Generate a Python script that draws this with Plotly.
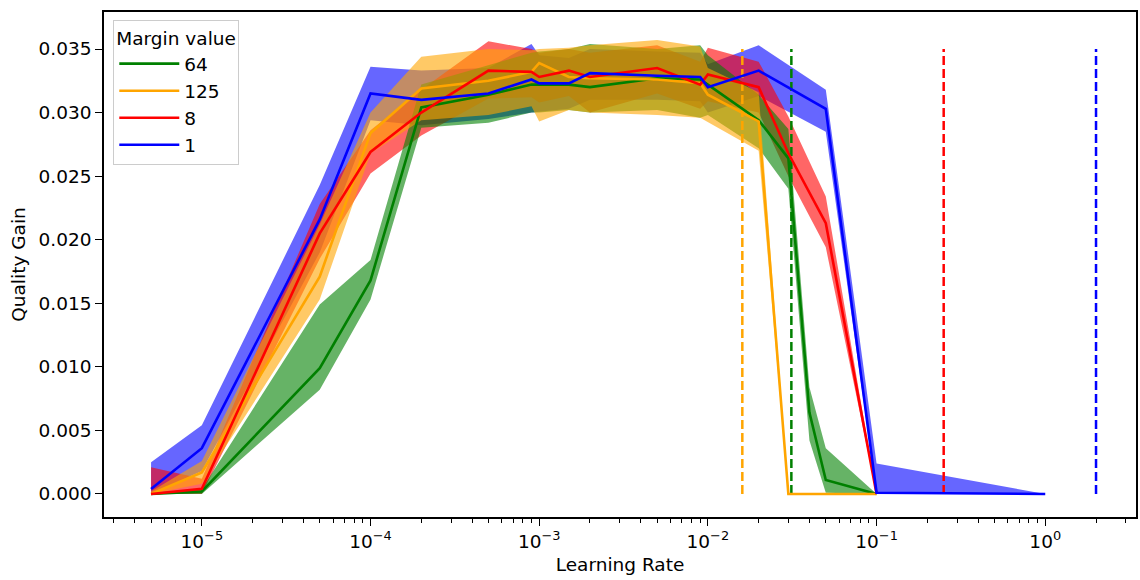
import plotly.graph_objects as go

# Learning-rate sweep: mean quality gain with a spread band, per margin value.
lr_64 = [5e-6, 1e-5, 5e-5, 1e-4, 2e-4, 5e-4, 9e-4, 1e-3, 1.5e-3, 2e-3, 5e-3, 9e-3, 1e-2, 2e-2, 3e-2, 4e-2, 5e-2, 1e-1]
mean_64 = [0.0000, 0.0002, 0.0099, 0.0168, 0.0304, 0.0314, 0.0322, 0.0322, 0.0322, 0.0320, 0.0327, 0.0326, 0.0322, 0.0294, 0.0264, 0.0064, 0.0011, 0.0000]
upper_64 = [0.0001, 0.0004, 0.0149, 0.0184, 0.0322, 0.0337, 0.0347, 0.0348, 0.0350, 0.0354, 0.0350, 0.0353, 0.0345, 0.0314, 0.0287, 0.0084, 0.0036, 0.0000]
lower_64 = [0.0000, 0.0000, 0.0082, 0.0153, 0.0288, 0.0292, 0.0300, 0.0300, 0.0302, 0.0300, 0.0302, 0.0296, 0.0298, 0.0272, 0.0240, 0.0042, 0.0001, 0.0000]

lr_125 = [5e-6, 1e-5, 5e-5, 1e-4, 2e-4, 5e-4, 9e-4, 1e-3, 1.5e-3, 2e-3, 5e-3, 9e-3, 1e-2, 2e-2, 3e-2, 1e-1]
mean_125 = [0.0000, 0.0017, 0.0171, 0.0284, 0.0319, 0.0325, 0.0332, 0.0339, 0.0328, 0.0327, 0.0326, 0.0323, 0.0314, 0.0293, 0.0000, 0.0000]
upper_125 = [0.0002, 0.0026, 0.0212, 0.0300, 0.0344, 0.0350, 0.0349, 0.0350, 0.0351, 0.0353, 0.0357, 0.0352, 0.0335, 0.0316, 0.0000, 0.0000]
lower_125 = [0.0000, 0.0008, 0.0153, 0.0268, 0.0294, 0.0298, 0.0305, 0.0293, 0.0302, 0.0300, 0.0298, 0.0296, 0.0292, 0.0270, 0.0000, 0.0000]

lr_8 = [5e-6, 1e-5, 5e-5, 1e-4, 2e-4, 5e-4, 9e-4, 1e-3, 1.5e-3, 2e-3, 5e-3, 9e-3, 1e-2, 2e-2, 3e-2, 5e-2, 1e-1]
mean_8 = [0.0000, 0.0004, 0.0205, 0.0269, 0.0300, 0.0333, 0.0332, 0.0328, 0.0333, 0.0328, 0.0335, 0.0322, 0.0330, 0.0320, 0.0268, 0.0213, 0.0000]
upper_8 = [0.0021, 0.0012, 0.0228, 0.0286, 0.0318, 0.0356, 0.0350, 0.0347, 0.0350, 0.0347, 0.0353, 0.0340, 0.0351, 0.0340, 0.0297, 0.0234, 0.0000]
lower_8 = [0.0000, 0.0000, 0.0185, 0.0252, 0.0282, 0.0311, 0.0312, 0.0308, 0.0313, 0.0300, 0.0315, 0.0303, 0.0309, 0.0300, 0.0250, 0.0194, 0.0000]

lr_1 = [5e-6, 1e-5, 5e-5, 1e-4, 2e-4, 5e-4, 9e-4, 1e-3, 1.5e-3, 2e-3, 5e-3, 9e-3, 1e-2, 2e-2, 5e-2, 1e-1, 1.0]
mean_1 = [0.0004, 0.0036, 0.0216, 0.0315, 0.0310, 0.0315, 0.0326, 0.0323, 0.0323, 0.0331, 0.0329, 0.0328, 0.0320, 0.0333, 0.0303, 0.0001, 0.0000]
upper_1 = [0.0025, 0.0054, 0.0243, 0.0336, 0.0333, 0.0335, 0.0354, 0.0345, 0.0343, 0.0350, 0.0348, 0.0347, 0.0338, 0.0353, 0.0318, 0.0024, 0.0000]
lower_1 = [0.0000, 0.0018, 0.0190, 0.0294, 0.0290, 0.0295, 0.0300, 0.0301, 0.0303, 0.0310, 0.0310, 0.0309, 0.0300, 0.0313, 0.0285, 0.0000, 0.0000]

margins = ["64", "125", "8", "1"]
# Suggested learning-rate limit for each margin (2 / margin).
limit_64, limit_125, limit_8, limit_1 = 2 / 64, 2 / 125, 2 / 8, 2 / 1
limit_top = 0.035

x_tickvals = [1e-5, 1e-4, 1e-3, 1e-2, 1e-1, 1e0]
x_ticktext = ["10<sup>−5</sup>", "10<sup>−4</sup>", "10<sup>−3</sup>", "10<sup>−2</sup>", "10<sup>−1</sup>", "10<sup>0</sup>"]
y_tickvals = [0.0, 0.005, 0.01, 0.015, 0.02, 0.025, 0.03, 0.035]

series = {
    "64": (lr_64, mean_64, upper_64, lower_64, "rgb(0,128,0)", "rgba(0,128,0,0.6)", limit_64),
    "125": (lr_125, mean_125, upper_125, lower_125, "rgb(255,165,0)", "rgba(255,165,0,0.6)", limit_125),
    "8": (lr_8, mean_8, upper_8, lower_8, "rgb(255,0,0)", "rgba(255,0,0,0.6)", limit_8),
    "1": (lr_1, mean_1, upper_1, lower_1, "rgb(0,0,255)", "rgba(0,0,255,0.6)", limit_1),
}

fig = go.Figure()

# Spread bands (stacking order of the translucent fills)
for m in ["1", "8", "64", "125"]:
    lr, mean, up, lo, line_c, fill_c, _ = series[m]
    fig.add_trace(go.Scatter(
        x=list(lr) + list(lr)[::-1],
        y=list(up) + list(lo)[::-1],
        mode="lines", fill="toself", fillcolor=fill_c,
        line=dict(width=0), hoverinfo="skip", showlegend=False,
    ))

# Dashed limit markers
for m in margins:
    lr, mean, up, lo, line_c, fill_c, lim = series[m]
    fig.add_trace(go.Scatter(
        x=[lim, lim], y=[0, limit_top], mode="lines",
        line=dict(color=line_c, width=2.5, dash="9px,4px"),
        hoverinfo="skip", showlegend=False,
    ))

# Mean curves
for m in margins:
    lr, mean, up, lo, line_c, fill_c, _ = series[m]
    fig.add_trace(go.Scatter(
        x=lr, y=mean, mode="lines", name=m,
        line=dict(color=line_c, width=2.6),
    ))

font = dict(family="DejaVu Sans", size=18.5, color="black")

fig.update_layout(
    width=1140, height=580,
    margin=dict(l=104, r=2, t=12, b=63),
    plot_bgcolor="white", paper_bgcolor="white",
    font=font,
    legend=dict(
        title=dict(text="Margin value", font=font),
        x=0.009, y=0.984, xanchor="left", yanchor="top",
        bgcolor="rgba(255,255,255,0.8)", bordercolor="#cccccc", borderwidth=1,
        font=font, tracegroupgap=0, itemwidth=60,
    ),
)

fig.update_xaxes(
    type="log", range=[-5.58, 0.538],
    tickmode="array", tickvals=x_tickvals, ticktext=x_ticktext,
    showgrid=False, zeroline=False,
    showline=True, linecolor="black", linewidth=1.5, mirror=True,
    ticks="outside", ticklen=7, tickwidth=1.3, tickcolor="black",
    minor=dict(ticks="outside", ticklen=4, tickwidth=1, tickcolor="black", dtick="D1", showgrid=False),
    title=dict(text="Learning Rate", font=font, standoff=7),
    tickfont=font,
)
fig.update_yaxes(
    range=[-0.00181, 0.03791],
    tickmode="array", tickvals=y_tickvals,
    tickformat=".3f",
    showgrid=False, zeroline=False,
    showline=True, linecolor="black", linewidth=1.5, mirror=True,
    ticks="outside", ticklen=7, tickwidth=1.3, tickcolor="black",
    title=dict(text="Quality Gain", font=font, standoff=8),
    tickfont=font,
)

fig.write_html("out.html")
